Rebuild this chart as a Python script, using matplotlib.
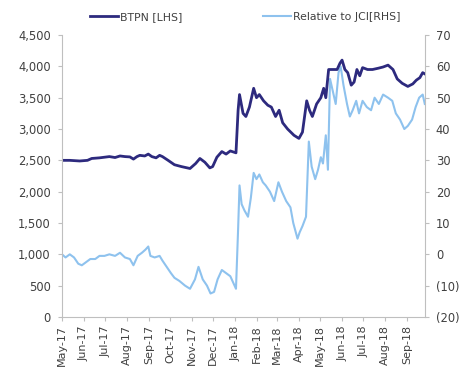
import matplotlib
matplotlib.use("Agg")
import matplotlib.pyplot as plt
import matplotlib.dates as mdates
import matplotlib.ticker as mticker
import pandas as pd

btpn_dates = ["2017-05-01","2017-05-12","2017-05-26","2017-06-06","2017-06-12","2017-06-23","2017-06-30",
    "2017-07-07","2017-07-15","2017-07-22","2017-07-29","2017-08-05","2017-08-10","2017-08-15","2017-08-19",
    "2017-08-26","2017-08-31","2017-09-05","2017-09-11","2017-09-16","2017-09-20","2017-09-28","2017-10-07",
    "2017-10-17","2017-10-29","2017-11-06","2017-11-12","2017-11-19","2017-11-26","2017-11-30","2017-12-06",
    "2017-12-13","2017-12-19","2017-12-25","2018-01-02","2018-01-05","2018-01-07","2018-01-12","2018-01-16",
    "2018-01-21","2018-01-27","2018-01-31","2018-02-04","2018-02-10","2018-02-16","2018-02-21","2018-02-27",
    "2018-03-04","2018-03-09","2018-03-16","2018-03-25","2018-04-01","2018-04-06","2018-04-12","2018-04-16",
    "2018-04-20","2018-04-26","2018-05-02","2018-05-06","2018-05-09","2018-05-13","2018-05-19","2018-05-25",
    "2018-05-29","2018-06-01","2018-06-05","2018-06-09","2018-06-14","2018-06-18","2018-06-22","2018-06-26",
    "2018-06-30","2018-07-07","2018-07-14","2018-07-22","2018-07-29","2018-08-05","2018-08-12","2018-08-18",
    "2018-08-25","2018-09-02","2018-09-09","2018-09-14","2018-09-19","2018-09-23","2018-09-26"]
btpn_values = [2500,2500,2490,2500,2530,2540,2550,
    2560,2545,2570,2560,2555,2520,2560,2580,
    2570,2600,2560,2540,2580,2560,2500,2430,
    2400,2370,2450,2530,2470,2380,2400,2550,
    2640,2600,2650,2620,3300,3550,3250,3200,
    3350,3650,3500,3550,3450,3380,3350,3200,
    3300,3100,3000,2900,2850,2950,3450,3300,
    3200,3400,3500,3650,3500,3950,3950,3950,
    4050,4100,3950,3900,3700,3750,3950,3850,
    3980,3950,3950,3970,3990,4020,3950,3800,
    3730,3680,3720,3780,3820,3900,3880]

rel_dates = ["2017-05-01","2017-05-06","2017-05-12","2017-05-18","2017-05-24","2017-05-29","2017-06-04",
    "2017-06-10","2017-06-17","2017-06-23","2017-06-30","2017-07-07","2017-07-15","2017-07-22","2017-07-29",
    "2017-08-05","2017-08-10","2017-08-16","2017-08-22","2017-08-27","2017-08-31","2017-09-03","2017-09-09",
    "2017-09-16","2017-09-20","2017-09-26","2017-10-02","2017-10-07","2017-10-14","2017-10-22","2017-10-29",
    "2017-11-05","2017-11-10","2017-11-16","2017-11-22","2017-11-27","2017-12-02","2017-12-07","2017-12-13",
    "2017-12-19","2017-12-25","2017-12-29","2018-01-02","2018-01-05","2018-01-07","2018-01-10","2018-01-14",
    "2018-01-19","2018-01-23","2018-01-27","2018-01-31","2018-02-04","2018-02-09","2018-02-13","2018-02-19",
    "2018-02-25","2018-03-03","2018-03-08","2018-03-14","2018-03-20","2018-03-24","2018-03-30","2018-04-02",
    "2018-04-06","2018-04-11","2018-04-15","2018-04-19","2018-04-24","2018-04-28","2018-05-02","2018-05-05",
    "2018-05-09","2018-05-12","2018-05-15","2018-05-19","2018-05-23","2018-05-27","2018-05-30","2018-06-03",
    "2018-06-08","2018-06-12","2018-06-16","2018-06-21","2018-06-25","2018-06-30","2018-07-06","2018-07-12",
    "2018-07-17","2018-07-23","2018-07-29","2018-08-05","2018-08-11","2018-08-16","2018-08-22","2018-08-28",
    "2018-09-02","2018-09-08","2018-09-13","2018-09-18","2018-09-23","2018-09-26"]
rel_values = [0,-1,0,-1,-3,-3.5,-2.5,
    -1.5,-1.5,-0.5,-0.5,0,-0.5,0.5,-1,
    -1.5,-3.5,-0.5,0.5,1.5,2.5,-0.5,-1,
    -0.5,-2,-4,-6,-7.5,-8.5,-10,-11,
    -8,-4,-8,-10,-12.5,-12,-8,-5,
    -6,-7,-9,-11,8,22,16,14,
    12,18,26,24,25.5,23,22,20,
    17,23,20,17,15,10,5,7,
    9,12,36,28,24,27,31,29,
    38,27,56,52,48,58,60,54,
    48,44,46,49,45,49,47,46,
    50,48,51,50,49,45,43,40,
    41,43,47,50,51,48]

left_ticks = [0, 500, 1000, 1500, 2000, 2500, 3000, 3500, 4000, 4500]
right_ticks = [-20, -10, 0, 10, 20, 30, 40, 50, 60, 70]

dark = "#2d2a7e"
light = "#8ec2ee"
grey = "#bfbfbf"
txt = "#404040"

bd = pd.to_datetime(btpn_dates)
rd = pd.to_datetime(rel_dates)

fig = plt.figure(figsize=(4.61, 3.69), dpi=100)
ax = fig.add_axes([0.1345, 0.141, 0.787, 0.764])
ax2 = ax.twinx()

l2, = ax2.plot(rd, rel_values, color=light, lw=1.5, label="Relative to JCI[RHS]")
l1, = ax.plot(bd, btpn_values, color=dark, lw=2.0, label="BTPN [LHS]")
ax.set_zorder(ax2.get_zorder() + 1)
ax.patch.set_visible(False)

ax.set_ylim(0, 4500)
ax.set_yticks(left_ticks)
ax.yaxis.set_major_formatter(mticker.FuncFormatter(lambda v, p: f"{int(v):,}"))
ax2.set_ylim(-20, 70)
ax2.set_yticks(right_ticks)
ax2.yaxis.set_major_formatter(mticker.FuncFormatter(lambda v, p: f"({abs(int(v))})" if v < 0 else f"{int(v)}"))

ax.set_xlim(pd.Timestamp("2017-05-01"), pd.Timestamp("2018-09-26"))
ax.xaxis.set_major_locator(mdates.MonthLocator())
ax.xaxis.set_major_formatter(mdates.DateFormatter("%b-%y"))

for a in (ax, ax2):
    a.spines["top"].set_visible(False)
    for s in ("left", "right", "bottom"):
        a.spines[s].set_color(grey)
        a.spines[s].set_linewidth(0.8)
    a.tick_params(colors=grey, labelcolor=txt, labelsize=8.3, length=3, width=0.8, pad=5)
ax.spines["right"].set_visible(False)
ax2.spines["left"].set_visible(False)
ax2.spines["bottom"].set_visible(False)
ax.tick_params(axis="x", labelsize=8, pad=3, labelrotation=90)

leg1 = fig.legend(handles=[l1], loc="center left", bbox_to_anchor=(90/461, 1-17/369),
                  frameon=False, fontsize=7.8, handlelength=2.6, handletextpad=0.2,
                  borderpad=0, borderaxespad=0, labelcolor=txt)
leg2 = fig.legend(handles=[l2], loc="center left", bbox_to_anchor=(263/461, 1-17/369),
                  frameon=False, fontsize=7.8, handlelength=2.6, handletextpad=0.2,
                  borderpad=0, borderaxespad=0, labelcolor=txt)

fig.savefig("out.png", dpi=100)
